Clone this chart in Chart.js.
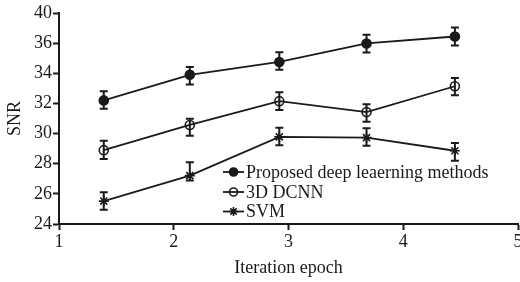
<!DOCTYPE html>
<html>
<head>
<meta charset="utf-8">
<script src="https://cdn.jsdelivr.net/npm/chart.js@4.4.0/dist/chart.umd.min.js"></script>
<style>
    body { margin: 0; background: #fff; }
    canvas { display: block; }
</style>
</head>
<body>
<canvas id="snrChart" width="520" height="282"></canvas>
<script>
// ========================
// DATA
// ========================
const epochs = [1.39, 2.14, 2.92, 3.68, 4.45];
const seriesNames = ['Proposed deep leaerning methods', '3D DCNN', 'SVM'];

const proposedSnr = [32.2, 33.9, 34.75, 35.98, 36.44];
const proposedHigh = [32.81, 34.42, 35.4, 36.55, 37.03];
const proposedLow = [31.65, 33.26, 34.24, 35.38, 35.85];

const dcnnSnr = [28.9, 30.57, 32.15, 31.43, 33.14];
const dcnnHigh = [29.52, 30.99, 32.75, 31.94, 33.69];
const dcnnLow = [28.31, 29.85, 31.56, 30.79, 32.55];

const svmSnr = [25.52, 27.21, 29.78, 29.73, 28.86];
const svmHigh = [26.11, 28.09, 30.39, 30.35, 29.37];
const svmLow = [24.95, 26.88, 29.23, 29.19, 28.2];

// the original axis skips 38 and prints 40 at the top tick
const yTicks = [24, 26, 28, 30, 32, 34, 36, 38];
const yTickLabels = ['24', '26', '28', '30', '32', '34', '36', '40'];
const xTicks = [1, 2, 3, 4, 5];

const ink = '#1a1a1a';
const serif = "'Liberation Serif', 'Times New Roman', serif";
const textSize = 18;
Chart.defaults.font.family = serif;
Chart.defaults.color = ink;

function points(values) {
    return values.map(function(v, i) { return { x: epochs[i], y: v }; });
}

function series(label, values, high, low, style, fill) {
    return {
        label: label,
        data: points(values),
        high: high,
        low: low,
        borderColor: ink,
        borderWidth: 1.8,
        pointStyle: style,
        pointRadius: style === 'star' ? 5 : 4.5,
        pointBorderWidth: 1.6,
        pointBackgroundColor: fill,
        pointBorderColor: ink,
        tension: 0
    };
}

// ========================
// PLUGINS
// ========================
const errorBars = {
    id: 'errorBars',
    afterDatasetsDraw(chart) {
        const ctx = chart.ctx;
        const xs = chart.scales.x;
        const ys = chart.scales.y;
        ctx.save();
        ctx.strokeStyle = ink;
        ctx.lineWidth = 2;
        chart.data.datasets.forEach(function(ds) {
            ds.data.forEach(function(pt, i) {
                const px = xs.getPixelForValue(pt.x);
                const top = ys.getPixelForValue(ds.high[i]);
                const bot = ys.getPixelForValue(ds.low[i]);
                ctx.beginPath();
                ctx.moveTo(px, top); ctx.lineTo(px, bot);
                ctx.moveTo(px - 4, top); ctx.lineTo(px + 4, top);
                ctx.moveTo(px - 4, bot); ctx.lineTo(px + 4, bot);
                ctx.stroke();
            });
        });
        ctx.restore();
    }
};

const insideLegend = {
    id: 'insideLegend',
    afterDraw(chart) {
        const ctx = chart.ctx;
        const rowsY = [172, 192, 211.5];
        const x0 = 223, x1 = 244;
        ctx.save();
        ctx.font = textSize + 'px ' + serif;
        ctx.textBaseline = 'middle';
        chart.data.datasets.forEach(function(ds, i) {
            const y = rowsY[i];
            ctx.strokeStyle = ink;
            ctx.lineWidth = 1.8;
            ctx.beginPath();
            ctx.moveTo(x0, y); ctx.lineTo(x1, y);
            ctx.stroke();
            ctx.fillStyle = ds.pointBackgroundColor;
            ctx.lineWidth = 1.6;
            Chart.helpers.drawPoint(ctx, {
                pointStyle: ds.pointStyle,
                radius: ds.pointStyle === 'star' ? 4.5 : 4,
                rotation: 0,
                borderWidth: 1.6
            }, (x0 + x1) / 2, y);
            ctx.fillStyle = ink;
            ctx.fillText(ds.label, x1 + 2, y + 1);
        });
        ctx.restore();
    }
};

// ========================
// CHART
// ========================
new Chart(document.getElementById('snrChart'), {
    type: 'line',
    data: {
        datasets: [
            series(seriesNames[0], proposedSnr, proposedHigh, proposedLow, 'circle', ink),
            series(seriesNames[1], dcnnSnr, dcnnHigh, dcnnLow, 'circle', 'rgba(0,0,0,0)'),
            series(seriesNames[2], svmSnr, svmHigh, svmLow, 'star', ink)
        ]
    },
    options: {
        responsive: false,
        animation: false,
        devicePixelRatio: 1,
        layout: { autoPadding: false, padding: { top: 13, right: 2, left: 0, bottom: 0 } },
        plugins: {
            legend: { display: false },
            tooltip: { enabled: false }
        },
        scales: {
            x: {
                type: 'linear',
                min: 1,
                max: 5,
                afterBuildTicks: function(s) {
                    s.ticks = xTicks.map(function(v) { return { value: v }; });
                },
                afterFit: function(s) {
                    s.height = 58;
                    s.paddingLeft = 0;
                    s.paddingRight = 0;
                },
                ticks: { font: { size: textSize }, padding: 1, maxRotation: 0, autoSkip: false },
                grid: { drawOnChartArea: false, tickLength: 6, tickWidth: 2, color: ink },
                border: { color: ink, width: 2 },
                title: {
                    display: true,
                    text: 'Iteration epoch',
                    font: { size: textSize },
                    padding: { top: 0, bottom: 3 }
                }
            },
            y: {
                min: 24,
                max: 38,
                afterBuildTicks: function(s) {
                    s.ticks = yTicks.map(function(v) { return { value: v }; });
                },
                afterFit: function(s) {
                    s.width = 59;
                    s.paddingTop = 0;
                    s.paddingBottom = 0;
                },
                ticks: {
                    font: { size: textSize },
                    padding: 1,
                    autoSkip: false,
                    callback: function(value) {
                        return yTickLabels[yTicks.indexOf(value)];
                    }
                },
                grid: { drawOnChartArea: false, tickLength: 6, tickWidth: 2, color: ink },
                border: { color: ink, width: 2 },
                title: {
                    display: true,
                    text: 'SNR',
                    font: { size: textSize },
                    padding: { top: 4, bottom: 0 }
                }
            }
        }
    },
    plugins: [errorBars, insideLegend]
});
</script>
</body>
</html>
